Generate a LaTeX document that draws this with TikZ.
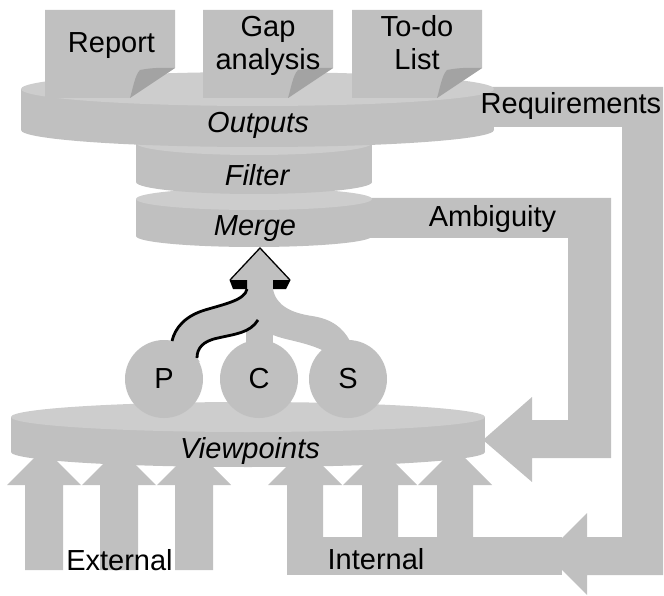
\documentclass[tikz,border=0pt]{standalone}
\usepackage{fontspec}
\setmainfont{Liberation Sans}
\definecolor{sidegray}{HTML}{C0C0C0}
\definecolor{topgray}{HTML}{CDCDCD}
\definecolor{foldgray}{HTML}{A3A3A3}
\begin{document}
\begin{tikzpicture}[x=1pt,y=-1pt,
  band/.style={fill=sidegray},
  lbl/.style={inner sep=0pt, anchor=base, font=\fontsize{29}{33}\selectfont},
  ilbl/.style={lbl, font=\fontsize{29}{33}\selectfont\itshape},
  circ/.style={circle, fill=sidegray, minimum size=78pt, inner sep=0pt, font=\fontsize{29}{33}\selectfont},
  edge/.style={draw=black, line width=2.8pt},
  head/.style={draw=black, line width=1.3pt}]
\useasboundingbox (0,0) rectangle (664,596);

% Requirements feedback arrow with Internal band
\fill[band] (450,87) -- (663,87) -- (663,575) -- (587,575) -- (587,595) -- (546,554)
  -- (587,513) -- (587,537) -- (622,537) -- (622,127) -- (450,127) -- cycle;
\fill[band] (287,537) rectangle (562,575);
% Internal arrows
\foreach \c in {305,380,455}{
  \fill[band] (\c-18,540) -- (\c-18,485) -- (\c-37,485) -- (\c,448) -- (\c+37,485) -- (\c+18,485) -- (\c+18,540) -- cycle;}
% External arrows
\foreach \c in {44,119,194}{
  \fill[band] (\c-19,570) -- (\c-19,485) -- (\c-37,485) -- (\c,448) -- (\c+37,485) -- (\c+19,485) -- (\c+19,570) -- cycle;}
% Ambiguity arrow
\fill[band] (330,198) -- (611,198) -- (611,458) -- (532,458) -- (532,482) -- (483,440)
  -- (532,397) -- (532,420) -- (568,420) -- (568,238) -- (330,238) -- cycle;

% Viewpoints disc
\fill[sidegray] (248,452) ellipse[x radius=237, y radius=15];
\fill[sidegray] (11,417) rectangle (485,452);
\fill[topgray] (248,417) ellipse[x radius=237, y radius=15];

% Merge disc
\fill[sidegray] (254,236) ellipse[x radius=118, y radius=11];
\fill[sidegray] (136,199) rectangle (372,236);
\fill[topgray] (254,199) ellipse[x radius=118, y radius=11];
% Filter disc
\fill[sidegray] (254,182) ellipse[x radius=118, y radius=12];
\fill[sidegray] (136,143) rectangle (372,182);
\fill[topgray] (254,143) ellipse[x radius=118, y radius=12];
% Outputs disc
\fill[sidegray] (257.5,130) ellipse[x radius=236.5, y radius=17];
\fill[sidegray] (21,89) rectangle (494,130);
\fill[topgray] (257.5,89) ellipse[x radius=236.5, y radius=17];

% Documents
\foreach \x in {45,203,352}{
  \fill[sidegray] (\x,10) -- (\x+130,10) -- (\x+130,68) -- (\x+85,98) -- (\x,98) -- cycle;
  \fill[foldgray] (\x+95,70) .. controls (\x+110,67) and (\x+120,68) .. (\x+130,68)
    -- (\x+85,98) .. controls (\x+88,88) and (\x+90,75) .. cycle;}

% Merge arrow and branches
\fill[sidegray] (247,285) -- (247,289) .. controls (245,300) and (225,304) .. (205,310)
  .. controls (185,316) and (175,328) .. (172,343) -- (200,362) -- (197,358)
  .. controls (197,348) and (203,341) .. (218,338) .. controls (235,334) and (250,333) .. (258,320)
  -- (262,285) -- cycle;
\fill[sidegray] (246,279) rectangle (273,345);
\fill[sidegray] (273,282) -- (273,289) .. controls (276,306) and (292,313) .. (312,316)
  .. controls (332,319) and (343,328) .. (350,341) -- (340,362) -- (322,350)
  .. controls (305,342) and (285,340) .. (273,335) -- cycle;
\fill[sidegray] (230,280) -- (260,248) -- (290,280) -- cycle;
\draw[head] (230,280) -- (260,248) -- (290,280);
\fill[black] (229.5,280) -- (247,280) -- (247,289) -- (233,289) -- cycle;
\fill[black] (273,280) -- (290.5,280) -- (286,289) -- (273,289) -- cycle;

\node[circ] (P) at (164,379) {P};
\node[circ] (C) at (259,379) {C};
\node[circ] (S) at (348,379) {S};

\draw[edge] (247,289) .. controls (245,300) and (225,304) .. (205,310)
  .. controls (185,316) and (175,328) .. (172,341);
\draw[edge] (258,320) .. controls (250,333) and (235,334) .. (218,338)
  .. controls (203,341) and (197,348) .. (197,358);

% Labels
\node[lbl] (report) at (111.5,53) {Report};
\node[lbl] (gap) at (268,37) {\begin{tabular}[t]{@{}c@{}}Gap\\analysis\end{tabular}};
\node[lbl] (todo) at (417,37) {\begin{tabular}[t]{@{}c@{}}To-do\\List\end{tabular}};
\node[ilbl] (outputs) at (258,133) {Outputs};
\node[ilbl] (filter) at (257,186) {Filter};
\node[ilbl] (merge) at (255,236) {Merge};
\node[ilbl] (viewpoints) at (250,458) {Viewpoints};
\node[lbl] (requirements) at (571,114) {Requirements};
\node[lbl] (ambiguity) at (492.5,227) {Ambiguity};
\node[lbl] (external) at (119.5,570) {External};
\node[lbl] (internal) at (376,569) {Internal};
\end{tikzpicture}
\end{document}
